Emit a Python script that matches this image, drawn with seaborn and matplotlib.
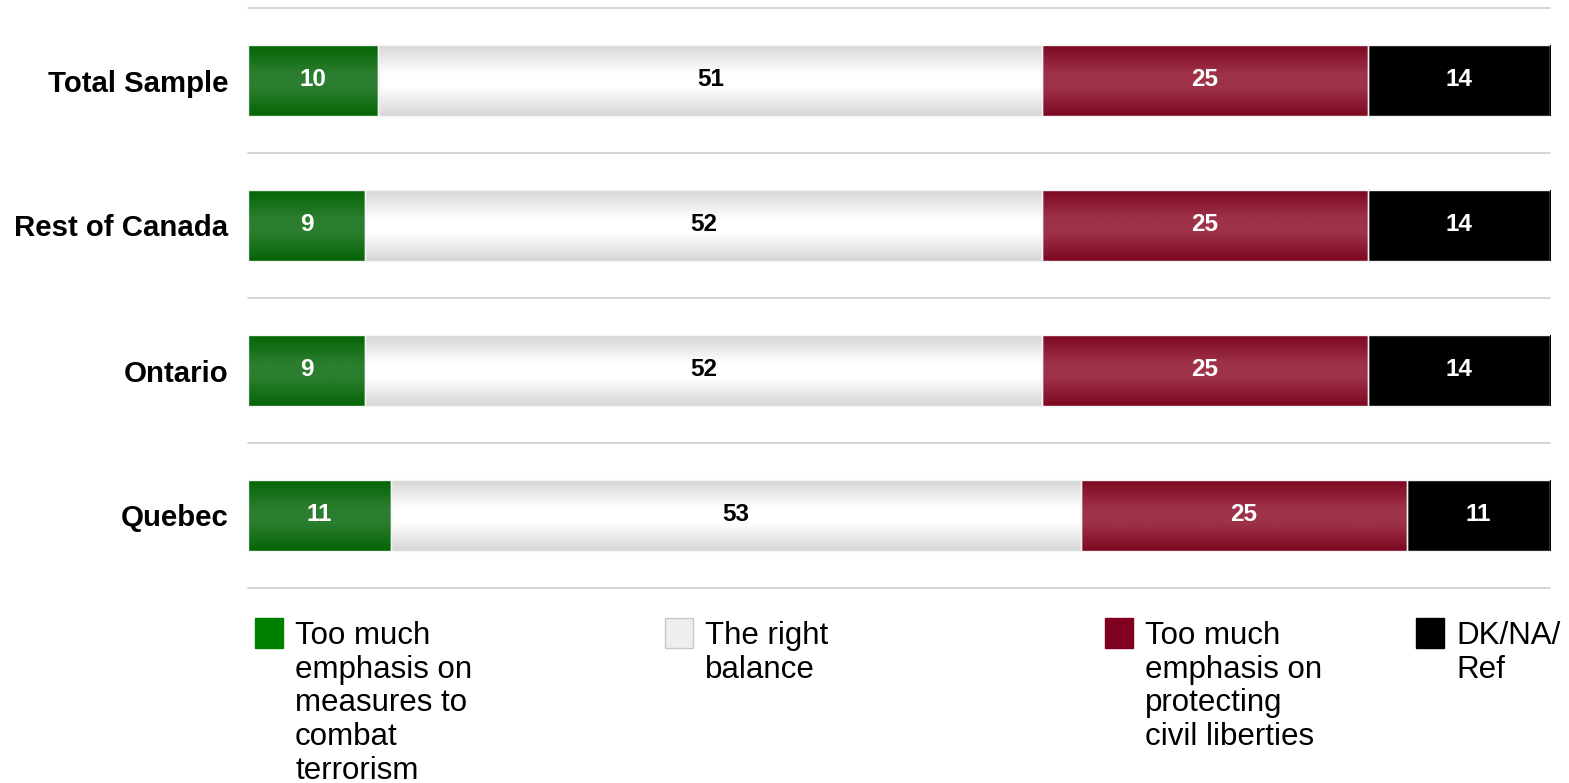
import numpy as np
import pandas as pd
import matplotlib
matplotlib.use("Agg")
import matplotlib.pyplot as plt
from matplotlib.colors import LinearSegmentedColormap
from matplotlib.patches import Rectangle
import seaborn as sns

# ---- data ----
categories = ["Total Sample", "Rest of Canada", "Ontario", "Quebec"]
series_names = [
    "Too much\nemphasis on\nmeasures to\ncombat\nterrorism",
    "The right\nbalance",
    "Too much\nemphasis on\nprotecting\ncivil liberties",
    "DK/NA/\nRef",
]
too_much_terrorism = [10, 9, 9, 11]
right_balance = [51, 52, 52, 53]
too_much_liberties = [25, 25, 25, 25]
dk_na_ref = [14, 14, 14, 11]

series_values = [too_much_terrorism, right_balance, too_much_liberties, dk_na_ref]

# styles
mid_colors = ["#2b7e2f", "#ffffff", "#9e3248", "#000000"]
edge_colors = ["#046404", "#d6d6d6", "#7c0820", "#000000"]
legend_colors = ["#008000", "#eeeeee", "#800020", "#000000"]
text_colors = ["white", "black", "white", "white"]

sns.set_theme(style="white")
plt.rcParams["font.family"] = ["Liberation Sans", "DejaVu Sans"]

fig = plt.figure(figsize=(15.69, 7.83), dpi=100)
ax = fig.add_axes([248 / 1569, 1 - 588 / 783, (1550 - 248) / 1569, 580 / 783])

vals = np.array(series_values, dtype=float)  # shape (series, cats)
cum = np.cumsum(vals, axis=0)
starts = cum - vals

bar_h = 0.483
# draw cumulative layers, largest first so the smaller ones sit on top
layer_patches = {}
for k in range(len(series_values) - 1, -1, -1):
    df = pd.DataFrame({"cat": categories, "val": cum[k]})
    n_before = len(ax.patches)
    sns.barplot(data=df, x="val", y="cat", orient="h", color=mid_colors[k],
                width=bar_h, saturation=1, ax=ax, edgecolor="none",
                linewidth=0, zorder=2)
    layer_patches[k] = ax.patches[n_before:]

# gradient overlays for each segment
for k in range(len(series_values)):
    cmap = LinearSegmentedColormap.from_list(
        f"g{k}", [(0.0, edge_colors[k]), (0.4, mid_colors[k]),
                  (0.6, mid_colors[k]), (1.0, edge_colors[k])])
    grad = np.linspace(0, 1, 256).reshape(-1, 1)
    for j, p in enumerate(layer_patches[k]):
        y0 = p.get_y()
        h = p.get_height()
        x0 = starts[k, j]
        x1 = cum[k, j]
        ax.imshow(grad, cmap=cmap, aspect="auto", interpolation="bilinear",
                  extent=(x0, x1, y0 + h, y0), zorder=2.5)
        # thin light outline around each segment
        ax.add_patch(Rectangle((x0, y0), x1 - x0, h, facecolor="none",
                               edgecolor="#f4f4f4", linewidth=1.0, zorder=3))
        ax.text((x0 + x1) / 2, y0 + h / 2 - 0.01, f"{int(vals[k, j])}",
                ha="center", va="center", color=text_colors[k],
                fontsize=17.5, fontweight="bold", zorder=4)

# separators between categories
for i in range(len(categories) + 1):
    ax.axhline(i - 0.5, color="#d2d2d2", linewidth=1.3, zorder=1, clip_on=False)

ax.set_xlim(0, 100)
ax.set_ylim(len(categories) - 0.5, -0.5)
ax.set_xlabel("")
ax.set_ylabel("")
ax.set_xticks([])
ax.set_yticks(range(len(categories)))
ax.set_yticklabels(categories, fontsize=21.2, fontweight="bold", color="black")
ax.tick_params(axis="y", length=0, pad=14)
for s in ax.spines.values():
    s.set_visible(False)

# legend (manual, to mimic reference layout)
marker_x = [255, 665, 1105, 1416]
W, H = 1569, 783
for k, name in enumerate(series_names):
    mx = marker_x[k]
    ec = "#c8c8c8" if k == 1 else legend_colors[k]
    fig.patches.append(Rectangle((mx / W, 1 - 648 / H), 28 / W, 30 / H,
                                 transform=fig.transFigure, facecolor=legend_colors[k],
                                 edgecolor=ec, linewidth=1))
    fig.text((mx + 40) / W, 1 - 621 / H, name, ha="left", va="top",
             fontsize=22.5, color="black", linespacing=1.16)

fig.savefig("out.png", dpi=100)
